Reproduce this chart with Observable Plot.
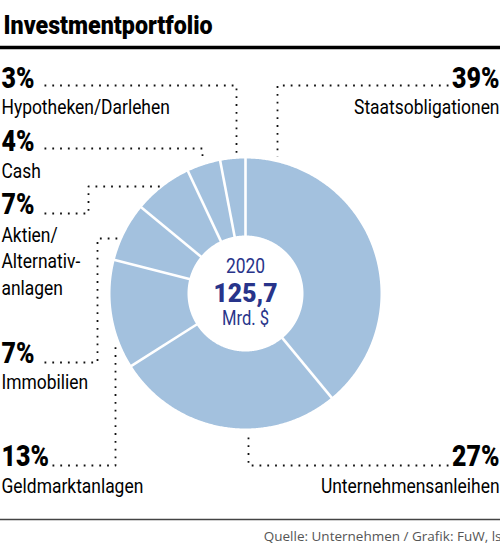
<!DOCTYPE html>
<html><head><meta charset="utf-8">
<script src="https://cdn.jsdelivr.net/npm/d3@7"></script>
<script src="https://cdn.jsdelivr.net/npm/@observablehq/plot@0.6"></script>
<style>body{margin:0;background:#fff} svg{display:block}</style>
</head><body><div id="chart"></div>
<script>
// ---- data ----
const categories = ["Staatsobligationen","Unternehmensanleihen","Geldmarktanlagen","Immobilien","Aktien/Alternativanlagen","Cash","Hypotheken/Darlehen"];
const shares = [39, 27, 13, 7, 7, 4, 3];
const shareLabels = ["39%","27%","13%","7%","7%","4%","3%"];
const nameLines = [["Staatsobligationen"],["Unternehmensanleihen"],["Geldmarktanlagen"],["Immobilien"],["Aktien/","Alternativ-","anlagen"],["Cash"],["Hypotheken/Darlehen"]];
const centerTexts = ["2020","125,7","Mrd. $"];
const titleText = "Investmentportfolio";
const sourceText = "Quelle: Unternehmen / Grafik: FuW, ls";

// ---- layout ----
const W = 500, H = 545;
const cx = 245, cy = 293, rO = 135, rI = 58;
const FONT = "Roboto, 'Noto Sans', sans-serif";
const sliceColor = "#a3c1de";
const navy = "#28348a";
const labelPos = [
  {side:"right", y:87, step:26},
  {side:"right", y:465, step:27},
  {side:"left", y:465, step:27},
  {side:"left", y:362, step:26},
  {side:"left", y:213, step:28},
  {side:"left", y:150, step:27},
  {side:"left", y:87, step:26}
];
const leaderPaths = [
  [[448,85],[277,85],[277,156]],
  [[448,465],[248,465],[248,432]],
  [[52,465],[115,465],[115,345]],
  [[44,362],[97,362],[97,238],[122,238]],
  [[44,213],[88,213],[88,186],[162,186]],
  [[44,148],[202,148],[202,158]],
  [[44,85],[236,85],[236,153]]
];

// ---- derived ----
const slices = d3.pie().sort(null).value(d => d.share)(categories.map((c,i)=>({category:c, share:shares[i]})));
const ring = [];
for (const s of slices) {
  const n = Math.max(4, Math.ceil((s.endAngle - s.startAngle) / (Math.PI/360)));
  for (let j=0;j<=n;j++){ const a = s.startAngle + (s.endAngle-s.startAngle)*j/n; ring.push({category:s.data.category, x:cx+rO*Math.sin(a), y:cy-rO*Math.cos(a)}); }
  for (let j=n;j>=0;j--){ const a = s.startAngle + (s.endAngle-s.startAngle)*j/n; ring.push({category:s.data.category, x:cx+rI*Math.sin(a), y:cy-rI*Math.cos(a)}); }
}
const seps = slices.map(s => ({a:s.startAngle}));

const pctRows = labelPos.map((p,i)=>({side:p.side, x: p.side==="left"?1:499, y:p.y, text:shareLabels[i]}));
const nameRows = labelPos.flatMap((p,i)=>nameLines[i].map((t,j)=>({side:p.side, x: p.side==="left"?1:499, y:p.y+p.step+j*26.5, text:t})));
const leaderRows = leaderPaths.flatMap((pts,i)=>pts.map(([x,y])=>({id:i, x, y})));
const L = a => a.filter(d=>d.side==="left"), R = a => a.filter(d=>d.side==="right");

const pctOpts = {x:"x", y:"y", text:"text", fontSize:29, fontWeight:900, lineAnchor:"bottom", fill:"#000", fontFamily:FONT};
const nameOpts = {x:"x", y:"y", text:"text", fontSize:21, lineAnchor:"bottom", fill:"#000", fontFamily:FONT};

const chart = Plot.plot({
  width: W, height: H, margin: 0,
  x: {domain:[0,W], range:[0,W], axis:null},
  y: {domain:[0,H], range:[0,H], axis:null},
  style: {fontFamily: FONT, background:"#fff", overflow:"visible"},
  marks: [
    Plot.line(ring, {x:"x", y:"y", z:"category", fill: sliceColor, stroke:"none", curve:"linear"}),
    Plot.link(seps, {x1: d=>cx+(rI-2)*Math.sin(d.a), y1: d=>cy-(rI-2)*Math.cos(d.a), x2: d=>cx+(rO+2)*Math.sin(d.a), y2: d=>cy-(rO+2)*Math.cos(d.a), stroke:"#fff", strokeWidth:2.6}),
    Plot.line(leaderRows, {x:"x", y:"y", z:"id", stroke:"#111", strokeWidth:1.8, strokeDasharray:"1.8 6", strokeLinecap:"butt"}),
    Plot.text(L(pctRows), {...pctOpts, textAnchor:"start"}),
    Plot.text(R(pctRows), {...pctOpts, textAnchor:"end"}),
    Plot.text(L(nameRows), {...nameOpts, textAnchor:"start"}),
    Plot.text(R(nameRows), {...nameOpts, textAnchor:"end"}),
    Plot.text([centerTexts[0]], {x:()=>cx, y:()=>272, text:d=>d, fontSize:21, lineAnchor:"bottom", fill:navy, fontFamily:FONT}),
    Plot.text([centerTexts[1]], {x:()=>cx, y:()=>301, text:d=>d, fontSize:26, fontWeight:900, lineAnchor:"bottom", fill:navy, fontFamily:FONT}),
    Plot.text([centerTexts[2]], {x:()=>cx, y:()=>324, text:d=>d, fontSize:20, lineAnchor:"bottom", fill:navy, fontFamily:FONT}),
    Plot.text([titleText], {x:()=>3, y:()=>33, text:d=>d, textAnchor:"start", fontSize:25, fontWeight:900, lineAnchor:"bottom", fill:"#000", fontFamily:FONT}),
    Plot.ruleY([47], {x1:0, x2:W, stroke:"#000", strokeWidth:3.5}),
    Plot.ruleY([519], {x1:0, x2:W, stroke:"#444", strokeWidth:1.3}),
    Plot.text([sourceText], {x:()=>501, y:()=>540, text:d=>d, textAnchor:"end", fontSize:13.5, lineAnchor:"bottom", fill:"#555", fontFamily:"'Open Sans',sans-serif"})
  ]
});
// condense glyphs horizontally (reference uses a condensed typeface)
const condense = [0.86, 0.86, 0.83, 0.83, 0.83, 0.95, 0.83, 0.93, 1];
chart.querySelectorAll('g[aria-label="text"]').forEach((g, k) => {
  const s = condense[k] ?? 1;
  if (s === 1) return;
  g.querySelectorAll("text").forEach(t => {
    const tr = t.getAttribute("transform") || "";
    t.setAttribute("transform", tr + ` scale(${s},1)`);
  });
});
document.getElementById("chart").append(chart);
</script>
</body></html>
